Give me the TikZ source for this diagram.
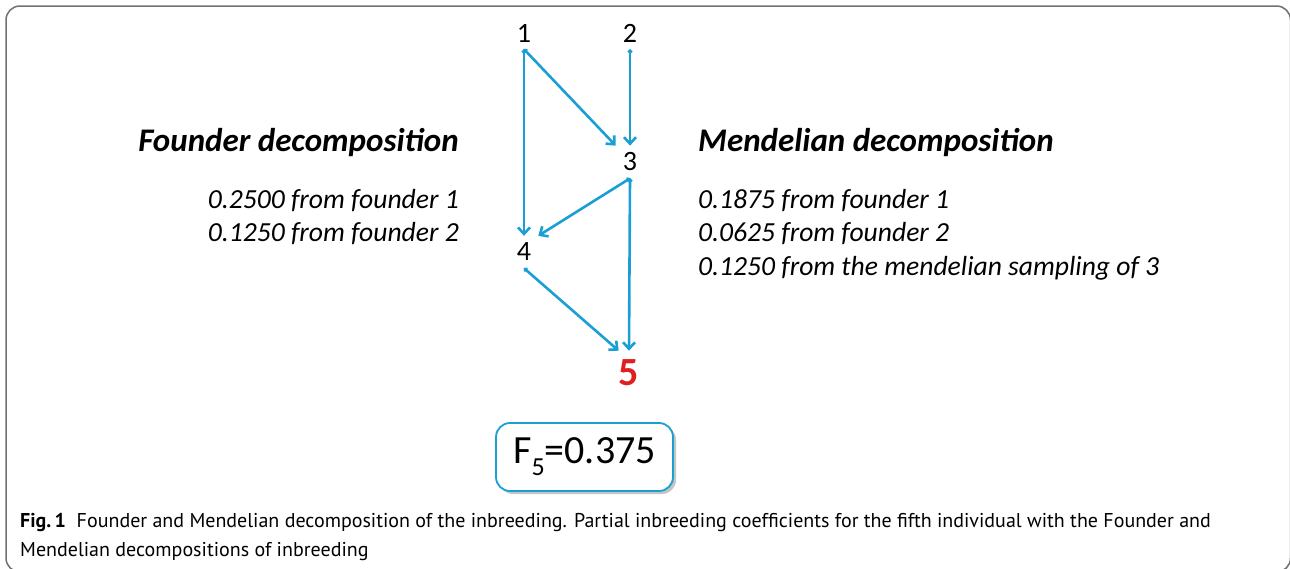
\documentclass[tikz,border=0pt]{standalone}
\usepackage{fontspec}
\setmainfont{Carlito}
\newfontfamily\capfont{PT Sans}
\usepackage{xcolor}
\usepackage{tikz}
\usetikzlibrary{arrows.meta,positioning,shadows}

\definecolor{edgeblue}{HTML}{1A9FD4}
\definecolor{framegray}{HTML}{707070}
\definecolor{fivered}{HTML}{E02020}

\begin{document}
\begin{tikzpicture}[
    x=1pt, y=-1pt,
    num/.style={font=\fontsize{28}{28}\selectfont, inner sep=7pt},
    head/.style={font=\fontsize{33}{33}\selectfont\bfseries\itshape, inner sep=0pt},
    part/.style={font=\fontsize{27.6}{27.6}\selectfont\itshape, inner sep=0pt},
    edge/.style={edgeblue, line width=2.6pt, {Circle[length=4.5pt]}-{Straight Barb[length=6.5pt,width=12pt]}}
]
\useasboundingbox (0,0) rectangle (1290,568);
\draw[framegray, line width=1.5pt, rounded corners=14pt] (6,6) rectangle (1290.5,572);

% pedigree
\node[num] (n1) at (524,33) {1};
\node[num] (n2) at (630,33) {2};
\node[num] (n3) at (630,162) {3};
\node[num] (n4) at (524,252) {4};
\node[num, font=\fontsize{40}{40}\selectfont\bfseries, text=fivered, inner xsep=0pt, inner ysep=9pt] (n5) at (629,373) {5};

\draw[edge] (n1.south) -- (n3.north west);
\draw[edge] (n2.south) -- (n3.north);
\draw[edge] (n1.south) -- (n4.north);
\draw[edge] (n3.south) -- (n4.north east);
\draw[edge] (n3.south) -- (n5.north);
\draw[edge] (n4.south) -- (n5.north west);

% founder decomposition
\node[head, anchor=base east] (fhead) at (459,151) {Founder decomposition};
\node[part, anchor=base east] (fone) at (459,208) {0.2500 from founder 1};
\node[part, anchor=base east] (ftwo) at (459,241) {0.1250 from founder 2};

% mendelian decomposition
\node[head, anchor=base west] (mhead) at (698,151) {Mendelian decomposition};
\node[part, anchor=base west] (mone) at (698,208) {0.1875 from founder 1};
\node[part, anchor=base west] (mtwo) at (698,241) {0.0625 from founder 2};
\node[part, anchor=base west] (mthree) at (698,275) {0.1250 from the mendelian sampling of 3};

% coefficient
\node[draw=edgeblue, line width=1.8pt, fill=white, rounded corners=14pt, minimum width=177pt, minimum height=68pt,
      drop shadow={shadow xshift=3pt, shadow yshift=-3pt, fill=black!45},
      font=\fontsize{40}{40}\selectfont] (coef) at (584.5,457) {F\raisebox{-0.3em}{\fontsize{26}{26}\selectfont 5}=0.375};

% caption
\node[anchor=base west, inner sep=0pt, font=\capfont\fontsize{20}{20}\selectfont] (capone) at (20,527)
  {\textbf{Fig.\,1}\ \ Founder and Mendelian decomposition of the inbreeding. Partial inbreeding coefficients for the fifth individual with the Founder and};
\node[anchor=base west, inner sep=0pt, font=\capfont\fontsize{20}{20}\selectfont] (captwo) at (20,556)
  {Mendelian decompositions of inbreeding};
\end{tikzpicture}
\end{document}
